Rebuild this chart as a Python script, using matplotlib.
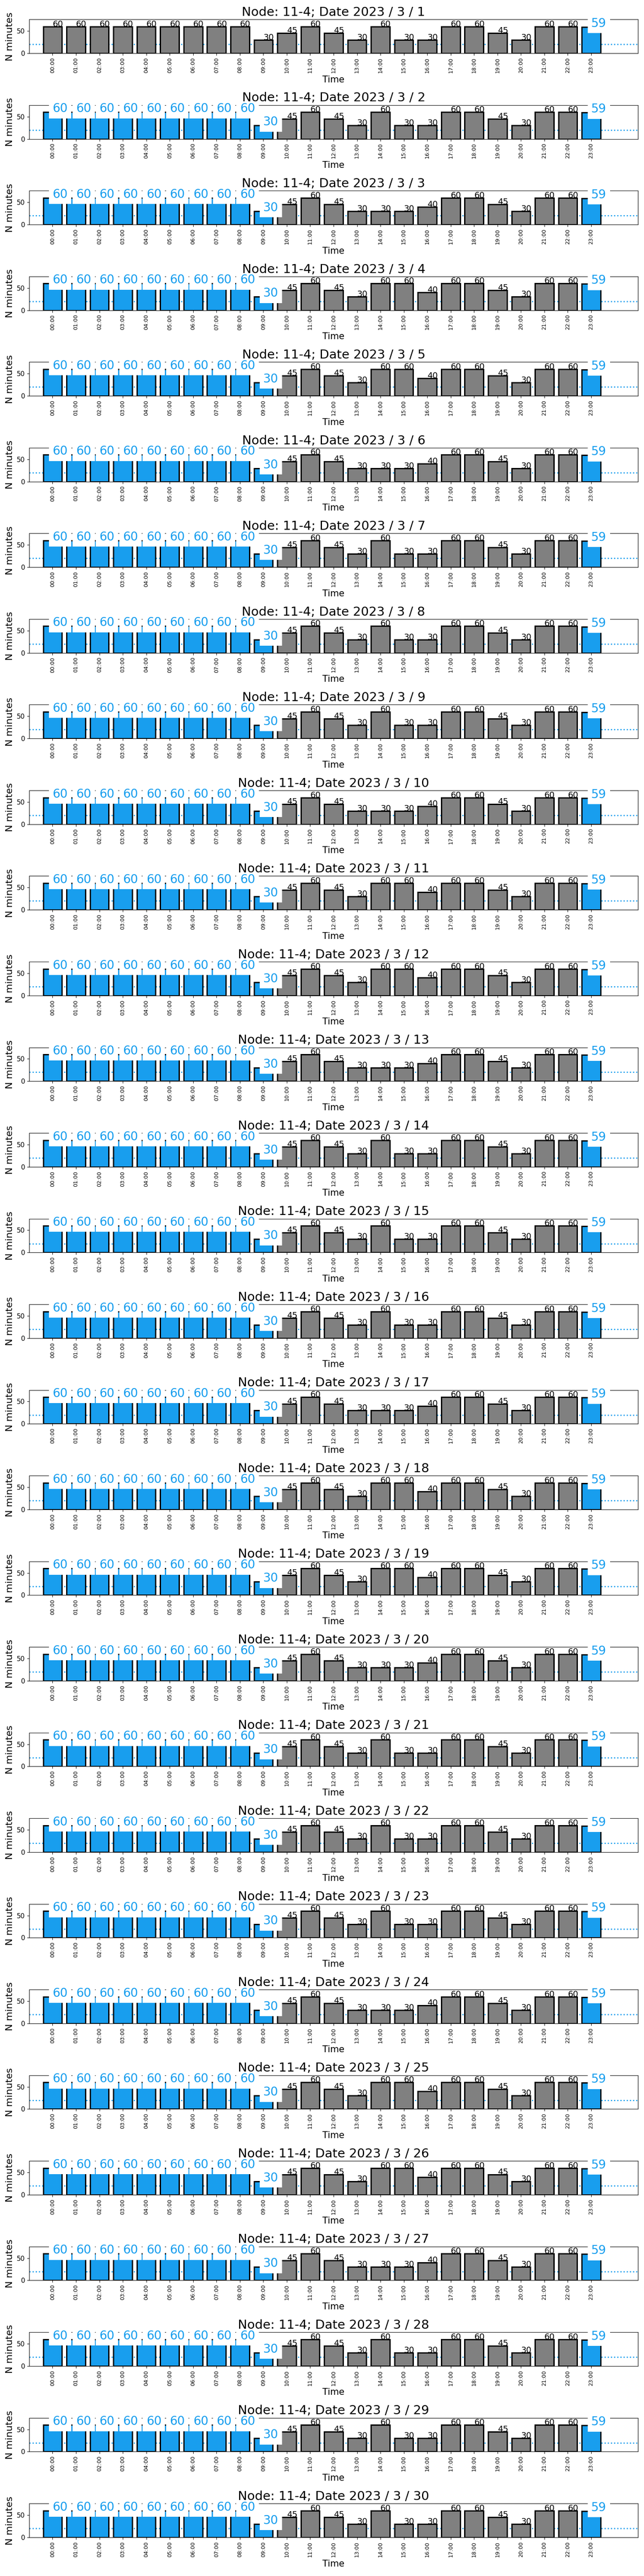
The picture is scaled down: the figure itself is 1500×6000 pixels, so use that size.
import matplotlib
matplotlib.use('Agg')
import matplotlib.pyplot as plt

# hourly minutes for node 11-4, three shapes that repeat over the month
hours = ["%02d:00" % h for h in range(24)]
mins_a = [60, 60, 60, 60, 60, 60, 60, 60, 60, 30, 45, 60, 45, 30, 60, 30, 30, 60, 60, 45, 30, 60, 60, 59]
mins_b = [60, 60, 60, 60, 60, 60, 60, 60, 60, 30, 45, 60, 45, 30, 30, 30, 40, 60, 60, 45, 30, 60, 60, 59]
mins_c = [60, 60, 60, 60, 60, 60, 60, 60, 60, 30, 45, 60, 45, 30, 60, 60, 40, 60, 60, 45, 30, 60, 60, 59]
day_shape = "AABCCBAAABCCBAAABCCBAAABCCBAAA"
days = list(range(1, 31))
flagged_first_day = [23]
flagged_hours = [0, 1, 2, 3, 4, 5, 6, 7, 8, 9, 23]
threshold = 20

shapes = {'A': mins_a, 'B': mins_b, 'C': mins_c}
blue = '#189eee'

fig, axes = plt.subplots(len(days), 1, figsize=(15, 60), dpi=100)
plt.subplots_adjust(left=0.0453, right=0.9907, top=0.99245, bottom=0.015, hspace=1.535)

for ax, day, shape in zip(axes, days, day_shape):
    mins = shapes[shape]
    flagged = flagged_first_day if day == 1 else flagged_hours
    colors = [blue if h in flagged else 'gray' for h in range(24)]

    ax.axhline(threshold, color=blue, linestyle=':', linewidth=2, zorder=0)
    ax.bar(range(24), mins, width=0.8, color=colors, edgecolor='black', linewidth=2.2, zorder=2)

    for h, v in enumerate(mins):
        if h in flagged:
            # white box hides the bar top, title still drawn over it
            ax.text(h, v, str(v), ha='left', va='baseline', fontsize=20, color=blue,
                    bbox=dict(boxstyle='square,pad=0.3', facecolor='white', edgecolor='none'),
                    clip_on=False)
        else:
            ax.text(h, v, str(v), ha='left', va='baseline', fontsize=14, color='black')

    ax.set_xlim(-1, 25)
    ax.set_ylim(0, 76)
    ax.set_xticks(range(24))
    ax.set_xticklabels(hours, rotation=90, fontsize=9)
    ax.set_yticks([0, 50])
    ax.tick_params(axis='y', labelsize=11)
    ax.set_title("Node: 11-4; Date 2023 / 3 / %d" % day, fontsize=21)
    ax.set_xlabel('Time', fontsize=15)
    ax.set_ylabel('N minutes', fontsize=16)

fig.savefig('out.png', dpi=100)
plt.close(fig)
